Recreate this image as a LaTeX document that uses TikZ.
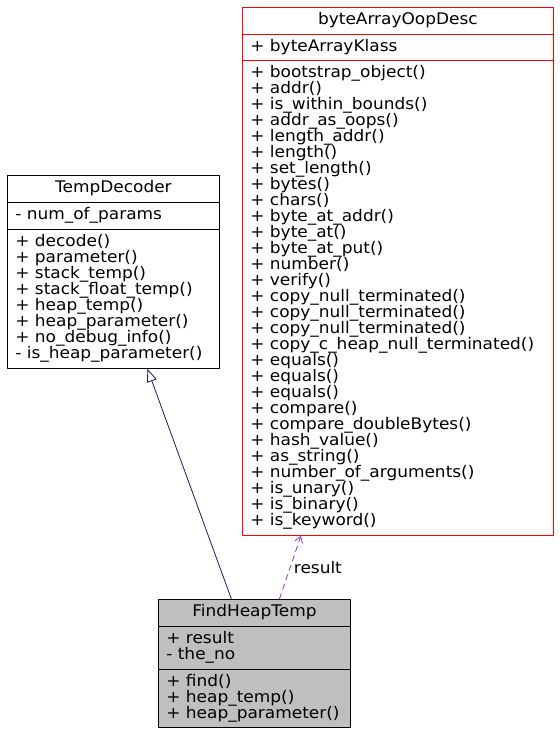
\documentclass[tikz,border=0pt]{standalone}
\usepackage{fontspec}
\newfontfamily\umlfont[FakeStretch=1.06]{DejaVu Sans}
\usetikzlibrary{arrows.meta}
\definecolor{inheritblue}{HTML}{191970}
\definecolor{usepurple}{HTML}{9A32CD}
\definecolor{leafgray}{HTML}{BFBFBF}
\newcommand\umlstrut{\lineskiplimit=-16pt\relax\rule[-4pt]{0pt}{16pt}}
\begin{document}
\begin{tikzpicture}[x=1pt,y=-1pt,line join=round,
	font=\umlfont\fontsize{16}{16}\selectfont,
	part/.style={draw,anchor=north west,inner xsep=8pt,inner ysep=0pt,line width=0.8pt,
		align=left,execute at begin node=\umlstrut,execute at end node=\umlstrut},
	head/.style={part,align=center}]
		\useasboundingbox (0,0) rectangle (559,735);
		% TempDecoder
		\node[head,text width=196pt,minimum height=27pt] (td-name) at (7,175) {TempDecoder};
		\node[part,text width=196pt,minimum height=27pt] (td-attr) at (7,202) {- num\_of\_params};
		\node[part,text width=196pt,minimum height=139pt] (td-meth) at (7,229) {+ decode()\\
			+ parameter()\\+ stack\_temp()\\+ stack\_float\_temp()\\+ heap\_temp()\\
			+ heap\_parameter()\\+ no\_debug\_info()\\- is\_heap\_parameter()};
		% byteArrayOopDesc
		\node[head,red,text width=295pt,minimum height=27pt] (ba-name) at (242,7) {\color{black}byteArrayOopDesc};
		\node[part,red,text width=295pt,minimum height=26pt] (ba-attr) at (242,34) {\color{black}+ byteArrayKlass};
		\node[part,red,text width=295pt,minimum height=475pt] (ba-meth) at (242,60) {\color{black}%
			+ bootstrap\_object()\\+ addr()\\+ is\_within\_bounds()\\+ addr\_as\_oops()\\
			+ length\_addr()\\+ length()\\+ set\_length()\\+ bytes()\\+ chars()\\
			+ byte\_at\_addr()\\+ byte\_at()\\+ byte\_at\_put()\\+ number()\\+ verify()\\
			+ copy\_null\_terminated()\\+ copy\_null\_terminated()\\+ copy\_null\_terminated()\\
			+ copy\_c\_heap\_null\_terminated()\\+ equals()\\+ equals()\\+ equals()\\
			+ compare()\\+ compare\_doubleBytes()\\+ hash\_value()\\+ as\_string()\\
			+ number\_of\_arguments()\\+ is\_unary()\\+ is\_binary()\\+ is\_keyword()};
		% FindHeapTemp
		\node[head,fill=leafgray,text width=176pt,minimum height=27pt] (fh-name) at (158,599) {FindHeapTemp};
		\node[part,fill=leafgray,text width=176pt,minimum height=43pt] (fh-attr) at (158,626) {+ result\\- the\_no};
		\node[part,fill=leafgray,text width=176pt,minimum height=58pt] (fh-meth) at (158,669) {+ find()\\
			+ heap\_temp()\\+ heap\_parameter()};
		% edges
		\draw[inheritblue,line width=0.8pt,-{Triangle[open,length=13pt,width=10pt]}]
			([xshift=-23pt]fh-name.north)--([xshift=34pt]td-meth.south);
		\draw[usepurple,line width=0.8pt,dash pattern=on 6pt off 4pt,-{Straight Barb[length=6pt,width=8pt]}]
			([xshift=25pt]fh-name.north)--([xshift=-97pt]ba-meth.south)
			node[midway,right,text=black]{result};
\end{tikzpicture}
\end{document}
